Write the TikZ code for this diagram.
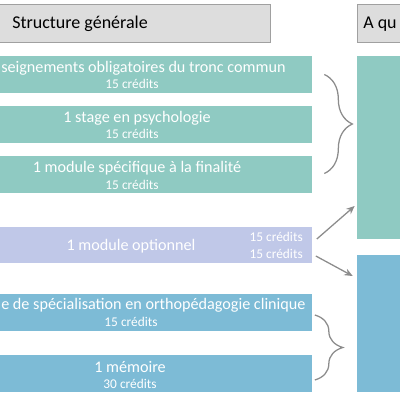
\documentclass[tikz,border=0pt]{standalone}
\usepackage{fontspec}
\setmainfont{Carlito}
\usepackage{xcolor}
\definecolor{headFill}{RGB}{221,221,221}
\definecolor{headDraw}{RGB}{160,160,160}
\definecolor{tealFill}{RGB}{143,202,194}
\definecolor{lavFill}{RGB}{192,200,232}
\definecolor{blueFill}{RGB}{125,187,214}
\definecolor{linkGray}{RGB}{140,140,140}
\usetikzlibrary{arrows.meta,positioning,calc,decorations.pathreplacing}
\tikzstyle{headbox}=[rectangle, draw=headDraw, fill=headFill, line width=0.6pt, minimum height=0.95cm, inner sep=0pt]
\tikzstyle{block}=[rectangle, minimum height=0.92cm, minimum width=8.75cm, inner sep=0pt]
\tikzstyle{bigbox}=[rectangle, minimum width=1.5cm, inner sep=0pt]
\tikzstyle{maintxt}=[font=\fontsize{11.5}{13}\selectfont, color=white, inner sep=0pt]
\tikzstyle{credtxt}=[font=\fontsize{9.5}{11}\selectfont, color=white, inner sep=0pt]
\tikzstyle{bracelink}=[decorate, decoration={brace,amplitude=0.7cm}, color=linkGray, line width=0.9pt]
\tikzstyle{linkarrow}=[-{Stealth[length=6pt,width=5pt]}, color=linkGray, line width=0.9pt]

\begin{document}
\begin{tikzpicture}[x=0.025cm, y=-0.025cm]
    \useasboundingbox[fill=white] (0,0) rectangle (400,400);

    % --- en-têtes ---
    \node[headbox, minimum width=8.3cm] (head1) at (104, 23.5) {};
    \node[font=\fontsize{12.8}{15}\selectfont, anchor=west, inner sep=0pt] (head1txt) at (12, 24) {Structure générale};
    \node[headbox, minimum width=1.5cm] (head2) at (387, 23.5) {};
    \node[font=\fontsize{12.8}{15}\selectfont, anchor=west, inner sep=0pt] (head2txt) at (363, 24) {A qu};

    % --- blocs verts ---
    \node[block, fill=tealFill] (g1) at (137, 74.5) {};
    \node[block, fill=tealFill] (g2) at (137, 124.5) {};
    \node[block, fill=tealFill] (g3) at (137, 174.5) {};
    \node[maintxt, anchor=west] (g1txt) at (1, 68) {seignements obligatoires du tronc commun};
    \node[credtxt] (g1cr) at (132, 84) {15 crédits};
    \node[maintxt] (g2txt) at (137, 118) {1 stage en psychologie};
    \node[credtxt] (g2cr) at (132, 134) {15 crédits};
    \node[maintxt] (g3txt) at (137, 168) {1 module spécifique à la finalité};
    \node[credtxt] (g3cr) at (132, 185) {15 crédits};

    % --- module optionnel ---
    \node[block, fill=lavFill] (opt) at (136.5, 245) {};
    \node[maintxt] (opttxt) at (131, 246) {1 module optionnel};
    \node[credtxt, anchor=east] (optcr1) at (303, 237) {15 crédits};
    \node[credtxt, anchor=east] (optcr2) at (303, 254) {15 crédits};

    % --- blocs bleus ---
    \node[block, fill=blueFill] (b1) at (136.5, 312.5) {};
    \node[block, fill=blueFill] (b2) at (136.5, 373.5) {};
    \node[maintxt, anchor=west] (b1txt) at (1, 305) {e de spécialisation en orthopédagogie clinique};
    \node[credtxt] (b1cr) at (131, 322) {15 crédits};
    \node[maintxt] (b2txt) at (130, 367) {1 mémoire};
    \node[credtxt] (b2cr) at (130, 384) {30 crédits};

    % --- colonne de droite ---
    \node[bigbox, fill=tealFill, minimum height=4.575cm] (rg) at (387, 147.5) {};
    \node[bigbox, fill=blueFill, minimum height=3.425cm] (rb) at (387, 323.5) {};

    % accolades
    \draw[bracelink] ($(g1.east)+(12,0)$) -- ($(g3.east)+(12,-1)$);
    \draw[bracelink] ($(b1.east)+(3,2.5)$) -- ($(b2.east)+(3,6.5)$);

    % flèches
    \draw[linkarrow] ($(opt.east)+(5,-6)$) -- ($(rg.west)+(-2,58.5)$);
    \draw[linkarrow] ($(opt.east)+(4,11)$) -- ($(rb.west)+(-4,-47.5)$);
\end{tikzpicture}
\end{document}
